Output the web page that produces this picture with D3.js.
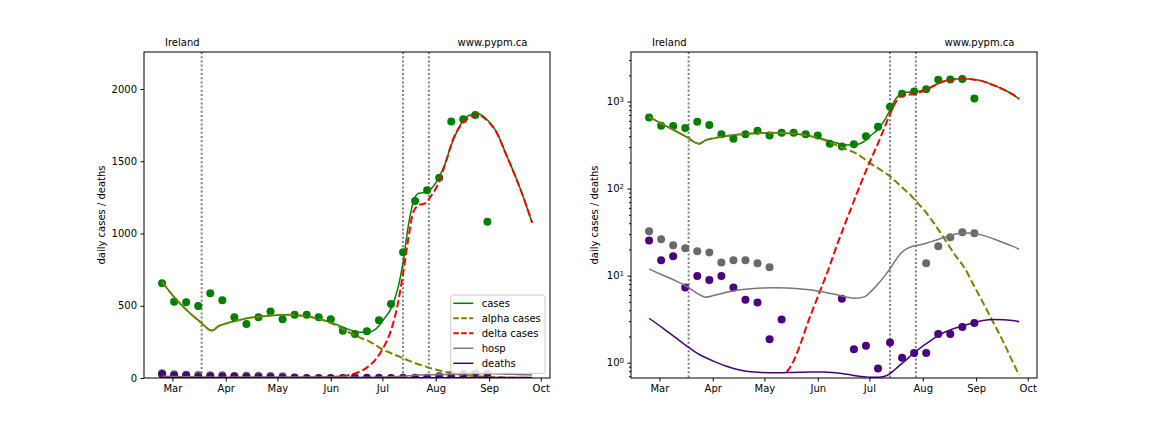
<!DOCTYPE html>
<html><head><meta charset="utf-8">
<script src="https://cdn.jsdelivr.net/npm/d3@7"></script>
<style>
body{margin:0;background:#fff}
text{font-family:"DejaVu Sans",sans-serif}
</style>
</head><body>
<svg id="chart" width="1152" height="432"></svg>
<script>
// ---------- data ----------
const pointDates = ["2021-02-23","2021-03-02","2021-03-09","2021-03-16","2021-03-23","2021-03-30","2021-04-06","2021-04-13","2021-04-20","2021-04-27","2021-05-04","2021-05-11","2021-05-18","2021-05-25","2021-06-01","2021-06-08","2021-06-15","2021-06-22","2021-06-29","2021-07-06","2021-07-13","2021-07-20","2021-07-27","2021-08-03","2021-08-10","2021-08-17","2021-08-24","2021-08-31"];
const caseObs  = [655,528,524,498,586,538,420,374,420,461,406,438,438,420,406,327,304,323,399,512,870,1225,1300,1385,1775,1790,1820,1082];
const hospObs  = [32.3,26.1,22.3,20.6,19.0,18.5,14.2,15.0,15.0,13.9,12.5,null,null,null,null,null,null,null,null,null,null,null,null,13.9,21.7,27.6,31.5,30.6];
const deathObs = [25.4,15.0,16.7,7.3,9.9,8.9,9.9,7.3,5.3,4.9,1.86,3.14,0,0,0,0,5.43,1.43,1.57,0.86,1.71,1.14,1.29,1.29,2.14,2.14,2.57,2.86];

const modelDates = ["2021-02-23","2021-03-03","2021-03-10","2021-03-17","2021-03-24","2021-03-28","2021-04-02","2021-04-09","2021-04-16","2021-04-23","2021-04-30","2021-05-07","2021-05-14","2021-05-21","2021-05-28","2021-06-04","2021-06-11","2021-06-18","2021-06-23","2021-06-28","2021-07-02","2021-07-06","2021-07-10","2021-07-13","2021-07-16","2021-07-19","2021-07-22","2021-07-25","2021-07-28","2021-08-02","2021-08-06","2021-08-10","2021-08-15","2021-08-20","2021-08-25","2021-08-31","2021-09-05","2021-09-11","2021-09-17","2021-09-22","2021-09-26"];
const casesModel  = [665,547,462,390,328,360,380,402,418,428,435,438,433,421,400,372,338,317,318,348,410,480,620,800,1050,1220,1278,1283,1296,1370,1470,1610,1745,1815,1832,1786,1710,1545,1375,1215,1075];
const alphaModel  = [665,547,462,390,328,360,380,402,418,428,435,438,433,421,398,366,320,280,255,220,192,172,152,138,122,108,95,84,72,56,44,34,24,17,12.5,7.5,4.9,2.9,1.7,1.05,0.72];
const hospModel   = [11.9,10.1,8.8,7.5,6.1,5.65,5.95,6.45,6.85,7.05,7.2,7.25,7.2,7.05,6.85,6.5,6.1,5.65,5.5,5.7,6.6,8.0,10.0,12.0,14.8,17.8,20.0,21.3,22.2,23.2,24.6,26.0,28.2,30.0,30.9,30.6,29.0,26.5,23.9,21.8,20.1];
const deathsModel = [3.24,2.5,1.97,1.55,1.25,1.14,1.03,0.91,0.83,0.785,0.77,0.765,0.77,0.775,0.78,0.78,0.765,0.735,0.71,0.69,0.68,0.68,0.70,0.75,0.84,0.95,1.06,1.2,1.35,1.6,1.82,2.05,2.3,2.5,2.68,2.9,3.05,3.13,3.12,3.05,2.96];

const deltaDates = ["2021-05-14","2021-05-18","2021-05-22","2021-05-26","2021-06-01","2021-06-07","2021-06-12","2021-06-17","2021-06-22","2021-06-27","2021-07-02","2021-07-06","2021-07-09","2021-07-13","2021-07-16","2021-07-19","2021-07-22","2021-07-26","2021-07-29","2021-08-03","2021-08-07","2021-08-11","2021-08-15","2021-08-19","2021-08-25","2021-08-31","2021-09-05","2021-09-11","2021-09-17","2021-09-22","2021-09-26"];
const deltaModel = [0.78,1.05,1.65,2.8,5.7,11.5,22,40,72,128,220,330,460,720,960,1150,1195,1210,1255,1360,1500,1650,1740,1790,1822,1780,1705,1542,1373,1214,1074];

const vlineDates = ["2021-03-18","2021-07-13","2021-07-28"];
const linTicks = [0,500,1000,1500,2000];
const logTicks = [1,10,100,1000];
const seriesNames = ["cases","alpha cases","delta cases","hosp","deaths"];
const titleLeft = "Ireland", titleRight = "www.pypm.ca";
const yLabel = "daily cases / deaths";

// ---------- layout ----------
const parse = d3.timeParse("%Y-%m-%d");
const svg = d3.select("#chart");
const W = 406, H = 326, TOP = 52;
const C = {cases:"#008000", alpha:"#808000", delta:"#ff0000", hospLine:"#777777", hospPt:"#696969", deaths:"#4b0082"};

const x = d3.scaleTime()
  .domain([new Date(2021,1,12,12), new Date(2021,9,6,9)])
  .range([0, W]);

const yLin = d3.scaleLinear().domain([0, 2256]).range([H, 0]);
const yLog = d3.scaleLog().domain([0.667, 3707]).range([H, 0]);

function drawPanel(left, y, isLog, withLegend) {
  const g = svg.append("g").attr("transform", `translate(${left},${TOP})`);
  const cid = "clip" + (isLog ? "L" : "N");
  g.append("clipPath").attr("id", cid).append("rect").attr("width", W).attr("height", H);
  const ok = v => v != null && (!isLog || v > 0);

  // vertical dotted lines
  g.append("g").selectAll("line").data(vlineDates).join("line")
    .attr("x1", d => x(parse(d))).attr("x2", d => x(parse(d)))
    .attr("y1", 0).attr("y2", H)
    .attr("stroke", "#808080").attr("stroke-width", 2)
    .attr("stroke-dasharray", "2,2.2");

  const body = g.append("g").attr("clip-path", `url(#${cid})`);

  const line = d3.line().defined(d => ok(d[1]))
    .x(d => x(d[0])).y(d => y(d[1])).curve(d3.curveMonotoneX);
  const series = [
    {dates: modelDates, vals: casesModel, color: C.cases, dash: null, w: 1.5},
    {dates: modelDates, vals: alphaModel, color: C.alpha, dash: "7.4,3.2", w: 2},
    {dates: deltaDates, vals: deltaModel, color: C.delta, dash: "7.4,3.2", w: 2},
    {dates: modelDates, vals: hospModel, color: C.hospLine, dash: null, w: 1.5},
    {dates: modelDates, vals: deathsModel, color: C.deaths, dash: null, w: 1.5}
  ];

  function scatter(vals, color) {
    body.append("g").selectAll("circle")
      .data(pointDates.map((d, i) => [parse(d), vals[i]]).filter(p => ok(p[1])))
      .join("circle")
      .attr("cx", d => x(d[0])).attr("cy", d => y(d[1])).attr("r", 4)
      .attr("fill", color);
  }
  scatter(caseObs, C.cases);
  scatter(hospObs, C.hospPt);
  scatter(deathObs, C.deaths);

  series.forEach(s => {
    body.append("path")
      .datum(s.dates.map((d, i) => [parse(d), s.vals[i]]))
      .attr("d", line).attr("fill", "none")
      .attr("stroke", s.color).attr("stroke-width", s.w)
      .attr("stroke-dasharray", s.dash);
  });

  // x axis
  const xa = g.append("g").attr("transform", `translate(0,${H})`)
    .call(d3.axisBottom(x).ticks(d3.timeMonth.every(1)).tickFormat(d3.timeFormat("%b"))
      .tickSize(3.5).tickPadding(3.5));
  xa.select(".domain").remove();
  xa.selectAll("text").attr("font-size", 10).attr("fill", "#000").attr("font-family", "DejaVu Sans");

  // y axis
  if (!isLog) {
    const ya = g.append("g").call(d3.axisLeft(y).tickValues(linTicks).tickFormat(d3.format("d"))
      .tickSize(3.5).tickPadding(3.5));
    ya.select(".domain").remove();
    ya.selectAll("text").attr("font-size", 10).attr("fill", "#000").attr("font-family", "DejaVu Sans");
  } else {
    const minor = [];
    for (let k = -1; k <= 3; k++) for (let m = 2; m <= 9; m++) {
      const v = m * Math.pow(10, k);
      if (v >= y.domain()[0] && v <= y.domain()[1]) minor.push(v);
    }
    const ym = g.append("g").call(d3.axisLeft(y).tickValues(minor).tickSize(2).tickFormat(""));
    ym.select(".domain").remove();
    const ya = g.append("g").call(d3.axisLeft(y).tickValues(logTicks).tickSize(3.5).tickPadding(3.5)
      .tickFormat(""));
    ya.select(".domain").remove();
    ya.selectAll(".tick").each(function(d) {
      const t = d3.select(this).append("text")
        .attr("x", -7).attr("dy", "0.32em").attr("text-anchor", "end")
        .attr("font-size", 10).attr("fill", "#000");
      t.append("tspan").text("10");
      t.append("tspan").attr("dy", "-0.45em").attr("font-size", 7).text(String(Math.round(Math.log10(d))));
    });
  }

  // frame
  g.append("rect").attr("width", W).attr("height", H)
    .attr("fill", "none").attr("stroke", "#000").attr("stroke-width", 1);

  // titles
  g.append("text").attr("x", 21).attr("y", -6.5).attr("font-size", 10).text(titleLeft);
  g.append("text").attr("x", 383.5).attr("y", -6.5).attr("font-size", 10)
    .attr("text-anchor", "end").text(titleRight);

  // y label
  g.append("text")
    .attr("transform", `translate(${isLog ? -37 : -43},${H / 2}) rotate(-90)`)
    .attr("text-anchor", "middle").attr("dy", "0.35em").attr("font-size", 10)
    .text(yLabel);

  if (withLegend) {
    const lg = g.append("g").attr("transform", `translate(${W - 99.3},${H - 83})`);
    lg.append("rect").attr("width", 94.3).attr("height", 78.3).attr("rx", 2.5)
      .attr("fill", "#fff").attr("fill-opacity", 0.8).attr("stroke", "#cccccc").attr("stroke-width", 1);
    series.forEach((s, i) => {
      const cy = 8.3 + i * 15;
      lg.append("line").attr("x1", 2.6).attr("x2", 22.6).attr("y1", cy).attr("y2", cy)
        .attr("stroke", s.color).attr("stroke-width", s.w).attr("stroke-dasharray", s.dash ? "5.5,2.4" : null);
      lg.append("text").attr("x", 31).attr("y", cy).attr("dy", "0.35em").attr("font-size", 10)
        .text(seriesNames[i]);
    });
  }
}

drawPanel(144, yLin, false, true);
drawPanel(631, yLog, true, false);
</script>
</body></html>
